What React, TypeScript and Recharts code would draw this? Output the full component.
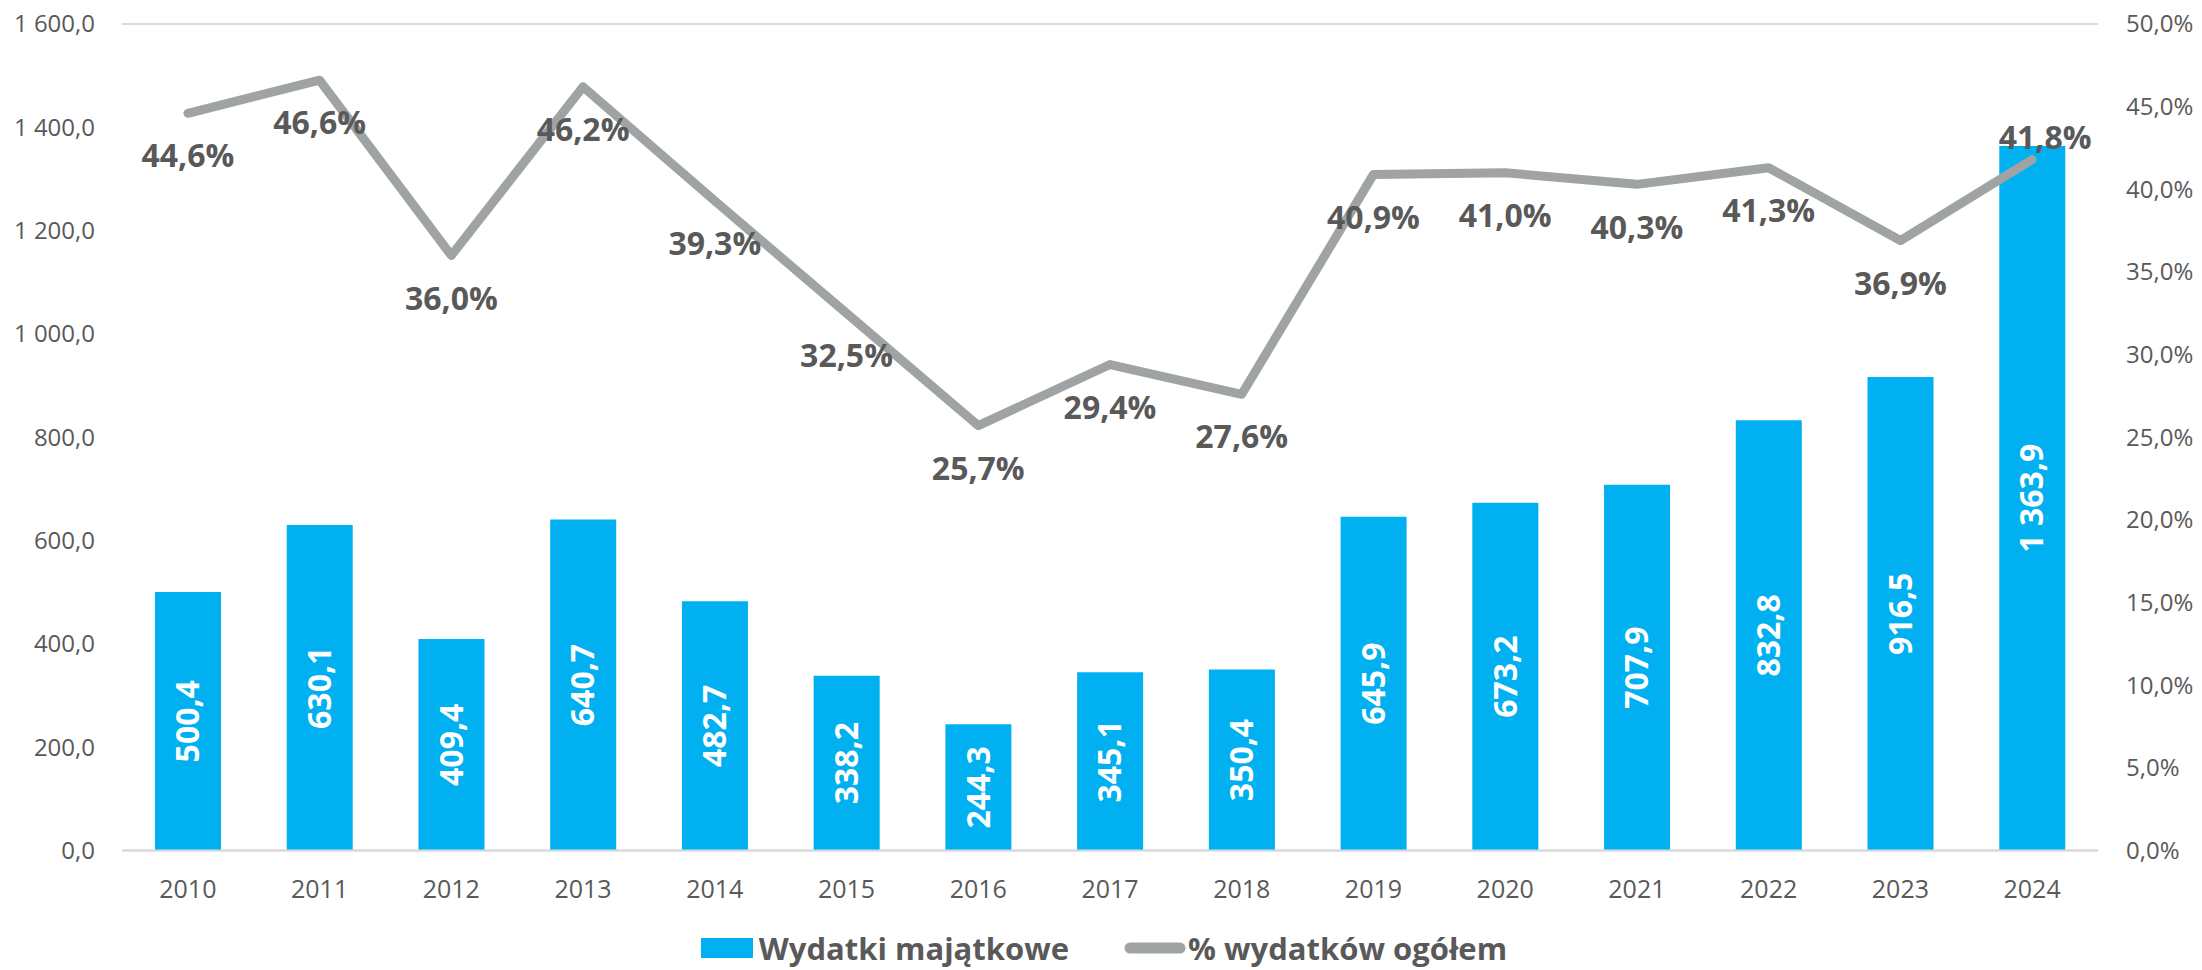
import React from "react";
import {
  ComposedChart,
  Bar,
  Line,
  XAxis,
  YAxis,
  CartesianGrid,
  Legend,
  LabelList,
} from "recharts";

const years = ["2010", "2011", "2012", "2013", "2014", "2015", "2016", "2017", "2018", "2019", "2020", "2021", "2022", "2023", "2024"];
const wydatkiMajatkowe = [500.4, 630.1, 409.4, 640.7, 482.7, 338.2, 244.3, 345.1, 350.4, 645.9, 673.2, 707.9, 832.8, 916.5, 1363.9];
const procentOgolem = [44.6, 46.6, 36.0, 46.2, 39.3, 32.5, 25.7, 29.4, 27.6, 40.9, 41.0, 40.3, 41.3, 36.9, 41.8];
const leftTicks = [0, 200, 400, 600, 800, 1000, 1200, 1400, 1600];
const rightTicks = [0, 5, 10, 15, 20, 25, 30, 35, 40, 45, 50];

const BAR_NAME = "Wydatki majątkowe";
const LINE_NAME = "% wydatków ogółem";

const data = years.map((y, i) => ({
  year: y,
  wydatki: wydatkiMajatkowe[i],
  pct: procentOgolem[i],
}));

const FONT = "'Open Sans', 'DejaVu Sans', sans-serif";
const TEXT = "#595959";
const BLUE = "#00B0F0";
const GREY = "#9FA3A3";

const fmtNum = (v: number) => {
  const [int, dec] = v.toFixed(1).split(".");
  const withSep = int.replace(/\B(?=(\d{3})+(?!\d))/g, " ");
  return `${withSep},${dec}`;
};
const fmtPct = (v: number) => `${v.toFixed(1).replace(".", ",")}%`;

const LeftTick = (props: any) => {
  const { y, payload } = props;
  return (
    <text x={95} y={y} dy="0.35em" textAnchor="end" fill={TEXT} fontSize={24} fontFamily={FONT}>
      {fmtNum(payload.value)}
    </text>
  );
};

const RightTick = (props: any) => {
  const { y, payload } = props;
  return (
    <text x={2126} y={y} dy="0.35em" textAnchor="start" fill={TEXT} fontSize={24} fontFamily={FONT}>
      {fmtPct(payload.value)}
    </text>
  );
};

const XTick = (props: any) => {
  const { x, y, payload } = props;
  return (
    <text x={x} y={y + 47} textAnchor="middle" fill={TEXT} fontSize={25} fontFamily={FONT}>
      {payload.value}
    </text>
  );
};

const BarLabel = (props: any) => {
  const { x, y, width, height, value } = props;
  const cx = x + width / 2;
  const cy = y + height / 2;
  return (
    <text
      x={cx}
      y={cy}
      dy="0.35em"
      textAnchor="middle"
      fill="#FFFFFF"
      fontSize={32}
      fontWeight="bold"
      fontFamily={FONT}
      transform={`rotate(-90, ${cx}, ${cy})`}
    >
      {fmtNum(value)}
    </text>
  );
};

const LineLabel = (props: any) => {
  const { x, y, value, index } = props;
  const last = index === years.length - 1;
  const lx = last ? x + 13 : x;
  const ly = last ? y - 22 : y + 43;
  return (
    <text
      x={lx}
      y={ly}
      dy="0.35em"
      textAnchor="middle"
      fill={TEXT}
      fontSize={32}
      fontWeight="bold"
      fontFamily={FONT}
    >
      {fmtPct(value)}
    </text>
  );
};

const LegendContent = () => (
  <div
    style={{
      display: "flex",
      justifyContent: "center",
      alignItems: "center",
      height: 45,
      fontFamily: FONT,
      fontWeight: "bold",
      fontSize: 31,
      color: TEXT,
      paddingLeft: 6,
    }}
  >
    <div style={{ display: "flex", alignItems: "center", marginRight: 55 }}>
      <div style={{ width: 52, height: 20, background: BLUE, marginRight: 6 }} />
      <span>{BAR_NAME}</span>
    </div>
    <div style={{ display: "flex", alignItems: "center" }}>
      <svg width={62} height={14} style={{ marginRight: 2 }}>
        <line x1={6} y1={7} x2={56} y2={7} stroke={GREY} strokeWidth={11} strokeLinecap="round" />
      </svg>
      <span>{LINE_NAME}</span>
    </div>
  </div>
);

export default function App() {
  return (
    <div style={{ position: "absolute", left: 0, top: 0, width: 2202, height: 970, background: "#fff" }}>
      <ComposedChart
        width={2202}
        height={970}
        data={data}
        margin={{ top: 24, right: 0, bottom: 0, left: 0 }}
      >
        <CartesianGrid vertical={false} stroke="#D9D9D9" strokeWidth={2} />
        <XAxis
          dataKey="year"
          height={74.5}
          tickLine={false}
          tickSize={0}
          tickMargin={0}
          axisLine={{ stroke: "#D9D9D9", strokeWidth: 2 }}
          tick={<XTick />}
          interval={0}
        />
        <YAxis
          yAxisId="left"
          orientation="left"
          width={122}
          domain={[0, 1600]}
          ticks={leftTicks}
          axisLine={false}
          tickLine={false}
          tick={<LeftTick />}
          interval={0}
        />
        <YAxis
          yAxisId="right"
          orientation="right"
          width={104}
          domain={[0, 50]}
          ticks={rightTicks}
          axisLine={false}
          tickLine={false}
          tick={<RightTick />}
          interval={0}
        />
        <Bar yAxisId="left" dataKey="wydatki" name={BAR_NAME} fill={BLUE} barSize={66} isAnimationActive={false}>
          <LabelList dataKey="wydatki" content={<BarLabel />} />
        </Bar>
        <Line
          yAxisId="right"
          dataKey="pct"
          name={LINE_NAME}
          stroke={GREY}
          strokeWidth={9}
          strokeLinecap="round"
          strokeLinejoin="round"
          dot={false}
          activeDot={false}
          type="linear"
          isAnimationActive={false}
        >
          <LabelList dataKey="pct" content={<LineLabel />} />
        </Line>
        <Legend
          verticalAlign="bottom"
          content={<LegendContent />}
          wrapperStyle={{ position: "absolute", left: 0, top: 925, width: 2202, height: 45 }}
        />
      </ComposedChart>
    </div>
  );
}
